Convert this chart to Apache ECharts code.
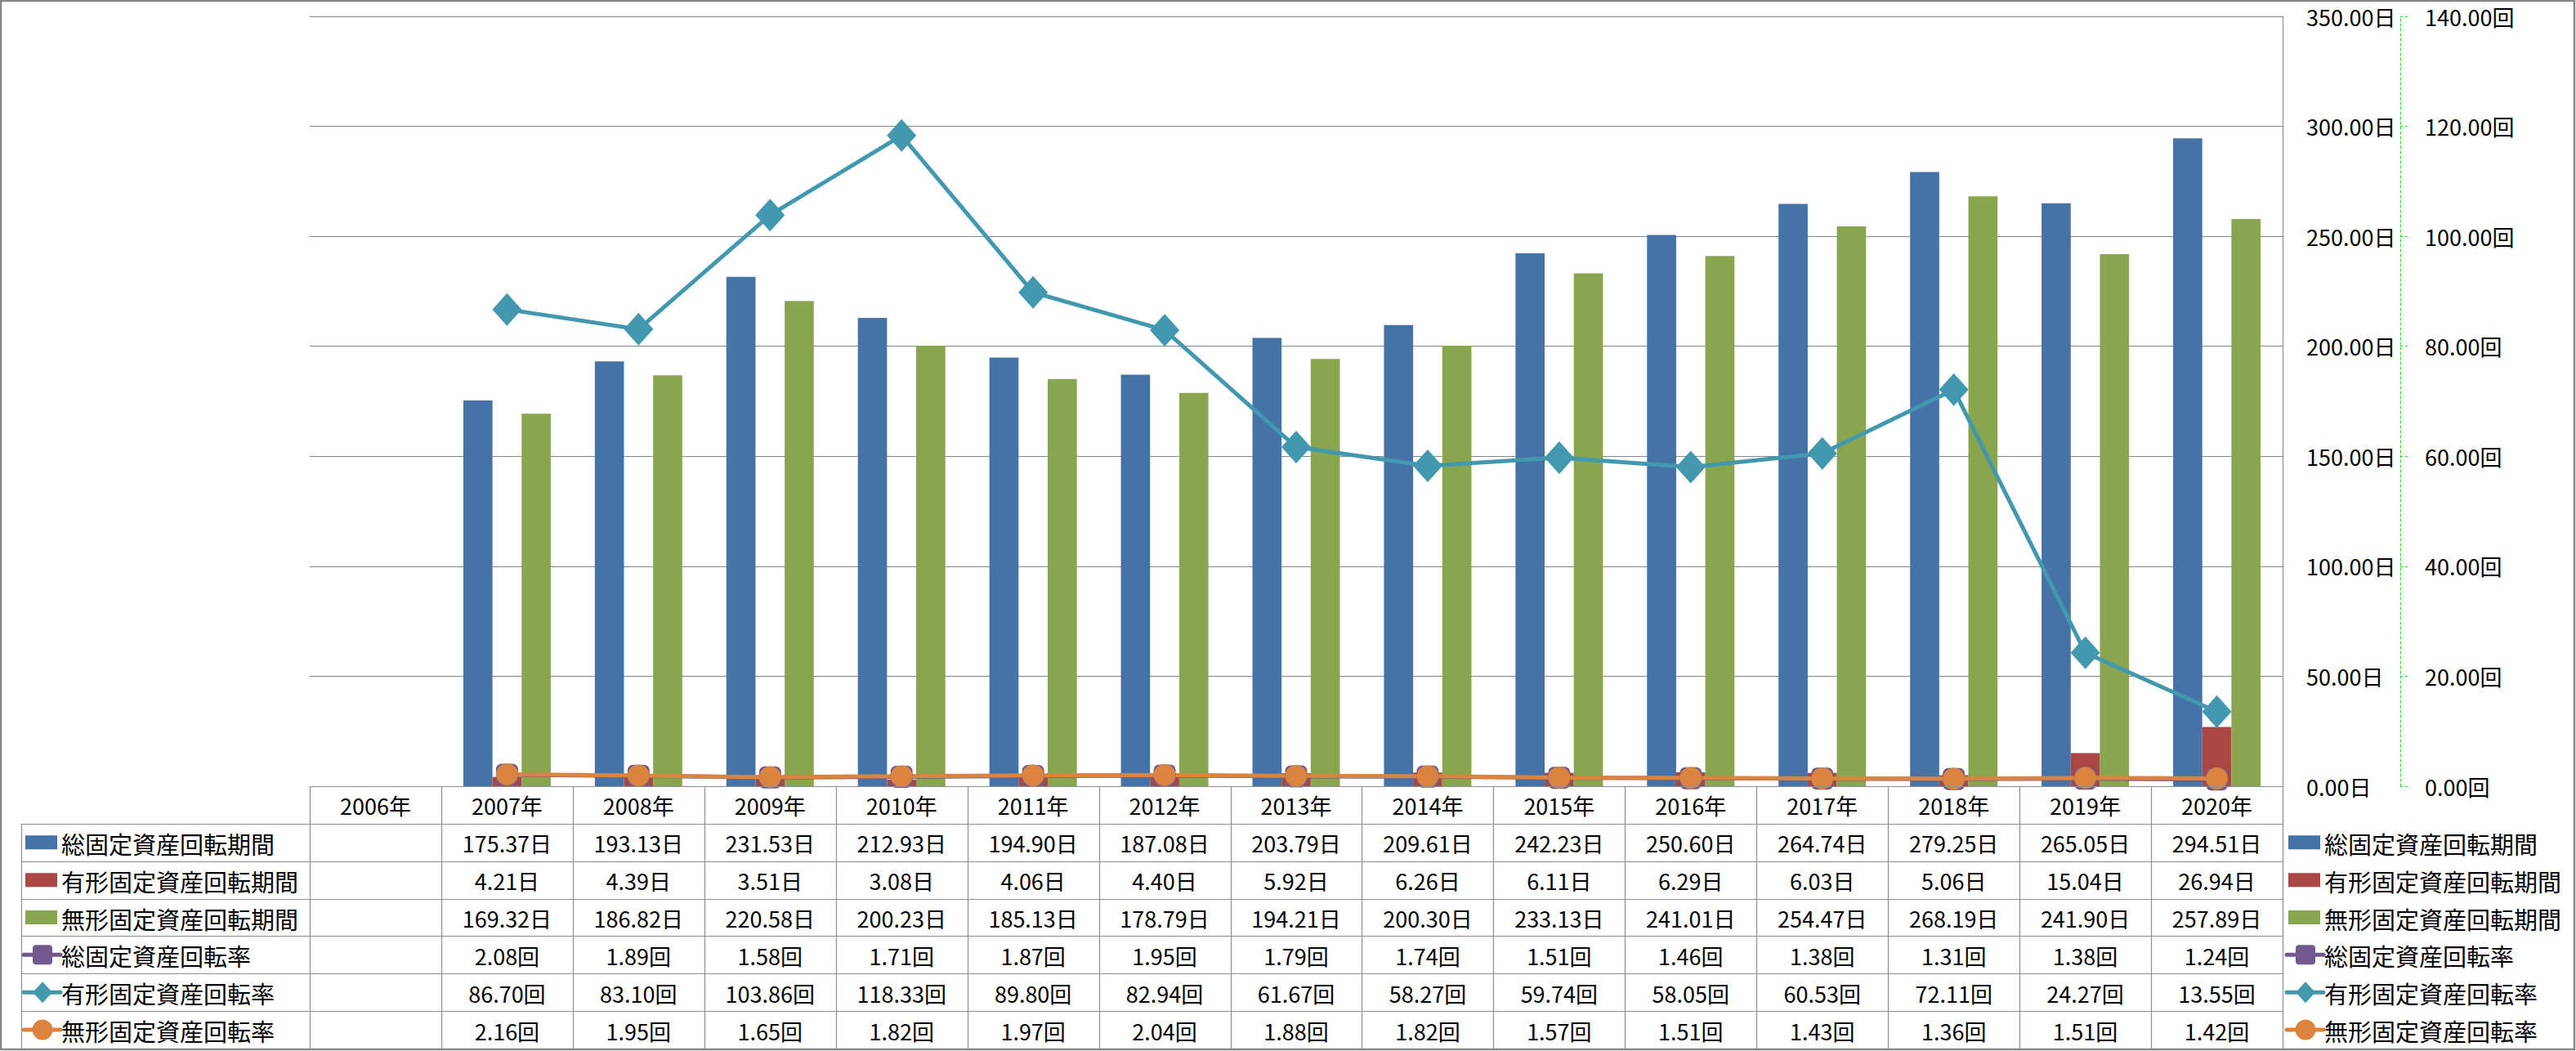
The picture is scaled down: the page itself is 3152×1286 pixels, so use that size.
<!DOCTYPE html>
<html>
<head>
<meta charset="utf-8">
<title>固定資産回転期間・回転率</title>
<script src="https://cdn.jsdelivr.net/npm/echarts@6/dist/echarts.min.js"></script>
<style>
    html, body { margin: 0; padding: 0; background: #fff; }
    #main { width: 3152px; height: 1286px; }
</style>
</head>
<body>
<div id="main"></div>
<script type="text/javascript">
    // データ
    var years = ['2006年', '2007年', '2008年', '2009年', '2010年', '2011年', '2012年', '2013年',
        '2014年', '2015年', '2016年', '2017年', '2018年', '2019年', '2020年'];
    var totalPeriod = [null, 175.37, 193.13, 231.53, 212.93, 194.90, 187.08, 203.79, 209.61, 242.23, 250.60, 264.74, 279.25, 265.05, 294.51];
    var tangiblePeriod = [null, 4.21, 4.39, 3.51, 3.08, 4.06, 4.40, 5.92, 6.26, 6.11, 6.29, 6.03, 5.06, 15.04, 26.94];
    var intangiblePeriod = [null, 169.32, 186.82, 220.58, 200.23, 185.13, 178.79, 194.21, 200.30, 233.13, 241.01, 254.47, 268.19, 241.90, 257.89];
    var totalRate = [null, 2.08, 1.89, 1.58, 1.71, 1.87, 1.95, 1.79, 1.74, 1.51, 1.46, 1.38, 1.31, 1.38, 1.24];
    var tangibleRate = [null, 86.70, 83.10, 103.86, 118.33, 89.80, 82.94, 61.67, 58.27, 59.74, 58.05, 60.53, 72.11, 24.27, 13.55];
    var intangibleRate = [null, 2.16, 1.95, 1.65, 1.82, 1.97, 2.04, 1.88, 1.82, 1.57, 1.51, 1.43, 1.36, 1.51, 1.42];
    var seriesNames = ['総固定資産回転期間', '有形固定資産回転期間', '無形固定資産回転期間',
        '総固定資産回転率', '有形固定資産回転率', '無形固定資産回転率'];
    var seriesUnits = ['日', '日', '日', '回', '回', '回'];

    var FONT = '"Noto Sans CJK JP", "Noto Sans", sans-serif';
    var colors = ['#4572A7', '#AA4643', '#89A54E', '#71588F', '#4198AF', '#DB843D'];
    var gray = '#868686';
    var values = [totalPeriod, tangiblePeriod, intangiblePeriod, totalRate, tangibleRate, intangibleRate];

    var myChart = echarts.init(document.getElementById('main'), null, { renderer: 'svg' });

    function barSeries(i) {
        return {
            name: seriesNames[i], type: 'bar', data: values[i],
            barGap: '0%', barCategoryGap: '33.5%',
            itemStyle: { color: colors[i] }
        };
    }
    function lineSeries(i, symbol, size) {
        return {
            name: seriesNames[i], type: 'line', yAxisIndex: 1, data: values[i],
            symbol: symbol, symbolSize: size, showAllSymbol: true,
            lineStyle: { color: colors[i], width: 5 },
            itemStyle: { color: colors[i], opacity: 1 }
        };
    }

    var option = {
        animation: false,
        backgroundColor: '#fff',
        grid: { left: 379, right: 359, top: 20, bottom: 324 },
        xAxis: {
            type: 'category', data: years,
            axisLine: { show: false }, axisTick: { show: false }, axisLabel: { show: false }
        },
        yAxis: [{
            type: 'value', position: 'right', min: 0, max: 350, interval: 50,
            axisLine: { show: true, lineStyle: { color: gray, width: 1 } },
            axisTick: { show: false },
            splitLine: { lineStyle: { color: gray, width: 1 } },
            axisLabel: {
                margin: 29, fontSize: 27, color: '#000', fontFamily: FONT,
                formatter: function (v) { return v.toFixed(2) + '日'; }
            }
        }, {
            type: 'value', position: 'right', offset: 144, min: 0, max: 140, interval: 20,
            axisLine: { show: true, lineStyle: { color: '#22dd22', width: 1, type: [3, 3] } },
            axisTick: { show: true, length: 9, lineStyle: { color: '#22dd22', width: 1, type: [3, 3] } },
            splitLine: { show: false },
            axisLabel: {
                margin: 30, fontSize: 27, color: '#000', fontFamily: FONT,
                formatter: function (v) { return v.toFixed(2) + '回'; }
            }
        }],
        series: [
            barSeries(0), barSeries(1), barSeries(2),
            lineSeries(3, 'roundRect', 27),
            lineSeries(4, 'diamond', [36, 40]),
            lineSeries(5, 'circle', 27)
        ]
    };
    myChart.setOption(option);

    // データテーブル（凡例付き）
    var xa = myChart.convertToPixel({ xAxisIndex: 0 }, years[0]);
    var xb = myChart.convertToPixel({ xAxisIndex: 0 }, years[1]);
    var colW = xb - xa;
    var tLeft = xa - colW / 2;
    var tRight = tLeft + colW * years.length;
    var tTop = myChart.convertToPixel({ yAxisIndex: 0 }, 0);
    var rowH = (1283 - tTop) / 7;
    var legLeft = 26;
    var els = [];
    var lineStyle = { stroke: '#8f8f8f', lineWidth: 1.2 };

    function hline(x1, x2, y) {
        els.push({ type: 'line', silent: true, z: 10, shape: { x1: x1, y1: y, x2: x2, y2: y }, style: lineStyle });
    }
    function vline(x, y1, y2) {
        els.push({ type: 'line', silent: true, z: 10, shape: { x1: x, y1: y1, x2: x, y2: y2 }, style: lineStyle });
    }
    function text(str, x, y, align, size) {
        els.push({
            type: 'text', silent: true, z: 11,
            style: { text: str, x: x, y: y, align: align, verticalAlign: 'middle', fontSize: size, fontFamily: FONT, fill: '#000' }
        });
    }
    function legendKey(i, x, cy) {
        var c = colors[i];
        if (i < 3) {
            els.push({ type: 'rect', silent: true, z: 11, shape: { x: x, y: cy - 8.5, width: 39, height: 17 }, style: { fill: c } });
            return;
        }
        var mx = x + 21;
        els.push({ type: 'line', silent: true, z: 11, shape: { x1: x - 2, y1: cy, x2: x + 43, y2: cy }, style: { stroke: c, lineWidth: 5, lineCap: 'round' } });
        if (i === 3) {
            els.push({ type: 'rect', silent: true, z: 12, shape: { x: mx - 12, y: cy - 12, width: 24, height: 24, r: 4 }, style: { fill: c } });
        } else if (i === 4) {
            els.push({ type: 'polygon', silent: true, z: 12, shape: { points: [[mx, cy - 13], [mx + 12, cy], [mx, cy + 13], [mx - 12, cy]] }, style: { fill: c } });
        } else {
            els.push({ type: 'circle', silent: true, z: 12, shape: { cx: mx, cy: cy, r: 12.5 }, style: { fill: c } });
        }
    }

    // 罫線
    hline(tLeft, tRight, tTop + 0.5);
    for (var k = 1; k <= 7; k++) hline(legLeft, tRight, Math.round(tTop + rowH * k) + 0.5);
    vline(legLeft + 0.5, tTop + rowH, tTop + rowH * 7);
    for (var j = 0; j <= years.length; j++) vline(Math.round(tLeft + colW * j) + 0.5, tTop, tTop + rowH * 7);

    // 見出し
    years.forEach(function (y) {
        text(y, myChart.convertToPixel({ xAxisIndex: 0 }, y), tTop + rowH / 2 + 1, 'center', 27);
    });
    // 値
    values.forEach(function (arr, r) {
        var cy = tTop + rowH * (r + 1.5) + 1;
        arr.forEach(function (v, c) {
            if (v === null) return;
            text(v.toFixed(2) + seriesUnits[r], myChart.convertToPixel({ xAxisIndex: 0 }, years[c]), cy, 'center', 27);
        });
        legendKey(r, 31, cy - 1);
        text(seriesNames[r], 75, cy, 'left', 29);
        legendKey(r, 2800, cy - 1);
        text(seriesNames[r], 2844, cy, 'left', 29);
    });

    // 外枠
    els.push({ type: 'rect', silent: true, z: 20, shape: { x: 1, y: 1, width: 3149, height: 1283 }, style: { fill: 'none', stroke: gray, lineWidth: 2.5 } });

    myChart.setOption({ graphic: { elements: els } });
</script>
</body>
</html>
